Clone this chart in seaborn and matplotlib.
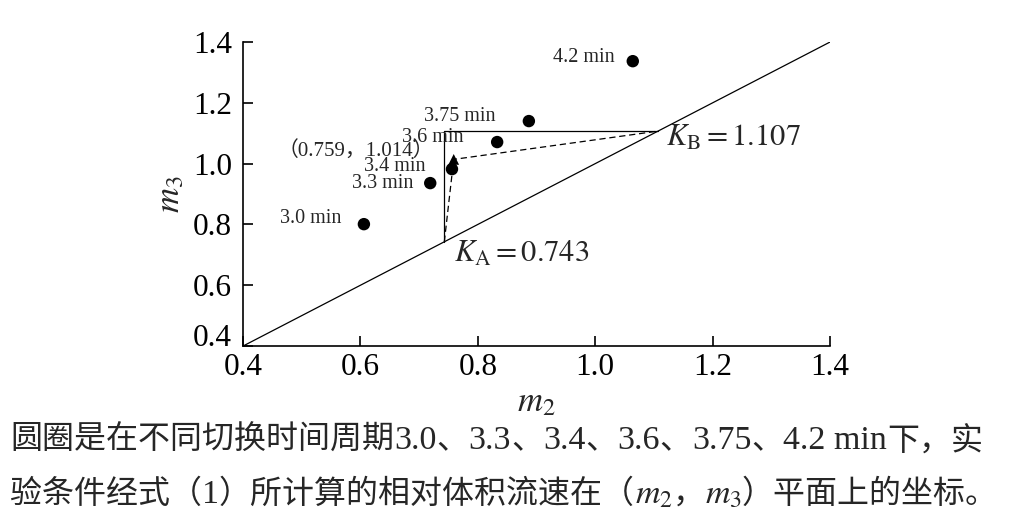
import matplotlib
matplotlib.use("Agg")
import matplotlib.pyplot as plt
import seaborn as sns
import pandas as pd

# switching time periods and relative flow rates
times = ["3.0", "3.3", "3.4", "3.6", "3.75", "4.2"]
m2 = [0.606, 0.719, 0.756, 0.833, 0.887, 1.064]
m3 = [0.801, 0.936, 0.982, 1.071, 1.140, 1.337]

K_A = 0.743
K_B = 1.107
tri_m2 = [0.759]
tri_m3 = [1.014]

diag = [0.4, 1.4]
ticks = [0.4, 0.6, 0.8, 1.0, 1.2, 1.4]
tick_labels = ["0.4", "0.6", "0.8", "1.0", "1.2", "1.4"]

df = pd.DataFrame({"m2": m2, "m3": m3, "t": times})
tri = pd.DataFrame({"m2": tri_m2, "m3": tri_m3})

sns.set_theme(style="ticks")
serif = ["Liberation Serif", "Noto Sans CJK SC"]
plt.rcParams["font.family"] = serif
plt.rcParams["mathtext.fontset"] = "stix"

fig = plt.figure(figsize=(10.26, 5.22), dpi=100)
ax = fig.add_axes([0.2368, 0.337, 0.809 - 0.2368, 0.9195 - 0.337])

# diagonal m2 = m3
ax.plot(diag, diag, color="black", lw=0.9)
# triangle construction
ax.plot([K_A, K_A, K_B], [K_A, K_B, K_B], color="black", lw=0.9)
ax.plot([K_A, tri_m2[0], K_B], [K_A, tri_m3[0], K_B], color="black", lw=0.9, ls=(0, (5, 3)))

sns.scatterplot(data=df, x="m2", y="m3", ax=ax, color="black", s=80, edgecolor="none", zorder=3)
sns.scatterplot(data=tri, x="m2", y="m3", ax=ax, color="black", marker="^", s=60, edgecolor="none", zorder=3)

# label offsets in points (right edge of text relative to the point)
offs = {"3.0": (-16, 4), "3.3": (-12, 0), "3.4": (-19, 2), "3.6": (-24, 3),
        "3.75": (-24, 3), "4.2": (-13, 3)}
for x, y, t in zip(m2, m3, times):
    ax.annotate(t + " min", (x, y), xytext=offs[t], textcoords="offset points",
                ha="right", va="center", fontsize=14.5, family=serif)

ax.annotate("（0.759，1.014）", (tri_m2[0], tri_m3[0]), xytext=(-14, 6),
            textcoords="offset points", ha="right", va="center", fontsize=15, family=serif)

ax.annotate(r"$K_{\mathrm{A}} = 0.743$", (K_A, K_A), xytext=(7, -9),
            textcoords="offset points", ha="left", va="center", fontsize=22)
ax.annotate(r"$K_{\mathrm{B}} = 1.107$", (K_B, K_B), xytext=(6, -5),
            textcoords="offset points", ha="left", va="center", fontsize=22)

ax.set_xlim(0.4, 1.4)
ax.set_ylim(0.4, 1.4)
ax.set_xticks(ticks)
ax.set_yticks(ticks)
ax.set_xticklabels(tick_labels)
ax.set_yticklabels(tick_labels)
ax.tick_params(direction="in", length=7, width=1.2, labelsize=22.5, colors="black")
ax.tick_params(axis="x", pad=5)
ax.tick_params(axis="y", pad=8)
# lowest y label sits a little higher so it clears the x label
ax.get_yticklabels()[0].set_va("baseline")
for s in ["left", "bottom"]:
    ax.spines[s].set_linewidth(1.2)
    ax.spines[s].set_color("black")
sns.despine(ax=ax)
ax.set_xlabel(r"$m_2$", fontsize=25, labelpad=3)
ax.set_ylabel(r"$m_3$", fontsize=25, labelpad=4)


# caption: CJK runs and Latin runs get slightly different sizes, like the original
def runs(s):
    out = []
    for ch in s:
        cjk = ord(ch) > 0x2E80
        if out and out[-1][1] == cjk:
            out[-1][0] += ch
        else:
            out.append([ch, cjk])
    return out


def caption_line(pieces, y, renderer):
    xpix = 10
    for p in pieces:
        if p.startswith("$"):
            parts = [[p, False]]
        else:
            parts = runs(p)
        for text, cjk in parts:
            size = 23 if cjk else 24.5
            t = fig.text(xpix / 1026, y, text, fontsize=size, family=serif,
                         va="center", ha="left")
            xpix = t.get_window_extent(renderer).x1


fig.canvas.draw()
renderer = fig.canvas.get_renderer()
caption_line(["圆圈是在不同切换时间周期3.0、3.3、3.4、3.6、3.75、4.2 min下，实"], 0.155, renderer)
caption_line(["验条件经式（1）所计算的相对体积流速在（", r"$m_2$", "，", r"$m_3$", "）平面上的坐标。"],
             0.052, renderer)

fig.savefig("out.png", dpi=100)
